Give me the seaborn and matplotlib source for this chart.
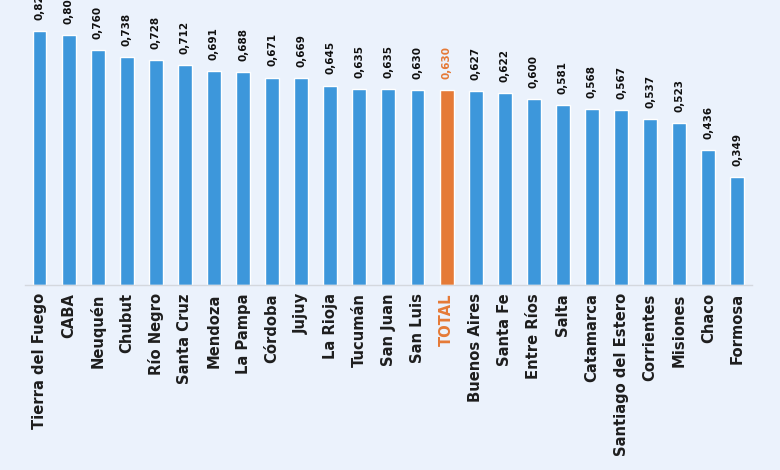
import numpy as np
import pandas as pd
import seaborn as sns
import matplotlib.pyplot as plt

provinces = [
    "Tierra del Fuego", "CABA", "Neuquén", "Chubut", "Río Negro", "Santa Cruz",
    "Mendoza", "La Pampa", "Córdoba", "Jujuy", "La Rioja", "Tucumán",
    "San Juan", "San Luis", "TOTAL", "Buenos Aires", "Santa Fe", "Entre Ríos",
    "Salta", "Catamarca", "Santiago del Estero", "Corrientes", "Misiones",
    "Chaco", "Formosa",
]
values = [
    0.821, 0.808, 0.760, 0.738, 0.728, 0.712,
    0.691, 0.688, 0.671, 0.669, 0.645, 0.635,
    0.635, 0.630, 0.630, 0.627, 0.622, 0.600,
    0.581, 0.568, 0.567, 0.537, 0.523,
    0.436, 0.349,
]
highlight = "TOTAL"

BLUE = "#3d97db"
ORANGE = "#e57a37"
BG = "#ebf2fc"

df = pd.DataFrame({"provincia": provinces, "valor": values})
palette = {p: (ORANGE if p == highlight else BLUE) for p in provinces}

sns.set_style("white")
fig = plt.figure(figsize=(7.8, 4.7), dpi=100, facecolor=BG)
ax = fig.add_axes([0.032, 0.394, 0.932, 0.606])
ax.set_facecolor(BG)

sns.barplot(
    data=df, x="provincia", y="valor", hue="provincia", palette=palette,
    order=provinces, hue_order=provinces, width=0.48, legend=False,
    saturation=1, ax=ax,
)

ax.set_ylim(0, 0.922)
ax.set_xlim(-0.5, len(provinces) - 0.5)

# value labels with comma decimals
for cont, name in zip(ax.containers, provinces):
    ax.bar_label(
        cont, fmt=lambda v: f"{v:.3f}".replace(".", ","), rotation=90,
        padding=8, fontsize=7.5, fontweight="bold", family="DejaVu Sans",
        color=ORANGE if name == highlight else "#111111", clip_on=False,
    )

for s in ["top", "right", "left"]:
    ax.spines[s].set_visible(False)
ax.spines["bottom"].set_color("#d4d8de")
ax.spines["bottom"].set_linewidth(1)
ax.set_yticks([])
ax.set_xlabel("")
ax.set_ylabel("")
ax.tick_params(axis="x", length=0, pad=6)
ax.set_xticks(range(len(provinces)))
ax.set_xticklabels(provinces, rotation=90, fontsize=10.6, fontweight="bold",
                   family="DejaVu Sans", color="#1e1e1e")
for lbl in ax.get_xticklabels():
    if lbl.get_text() == highlight:
        lbl.set_color(ORANGE)

fig.savefig("out.png", dpi=100, facecolor=BG)
